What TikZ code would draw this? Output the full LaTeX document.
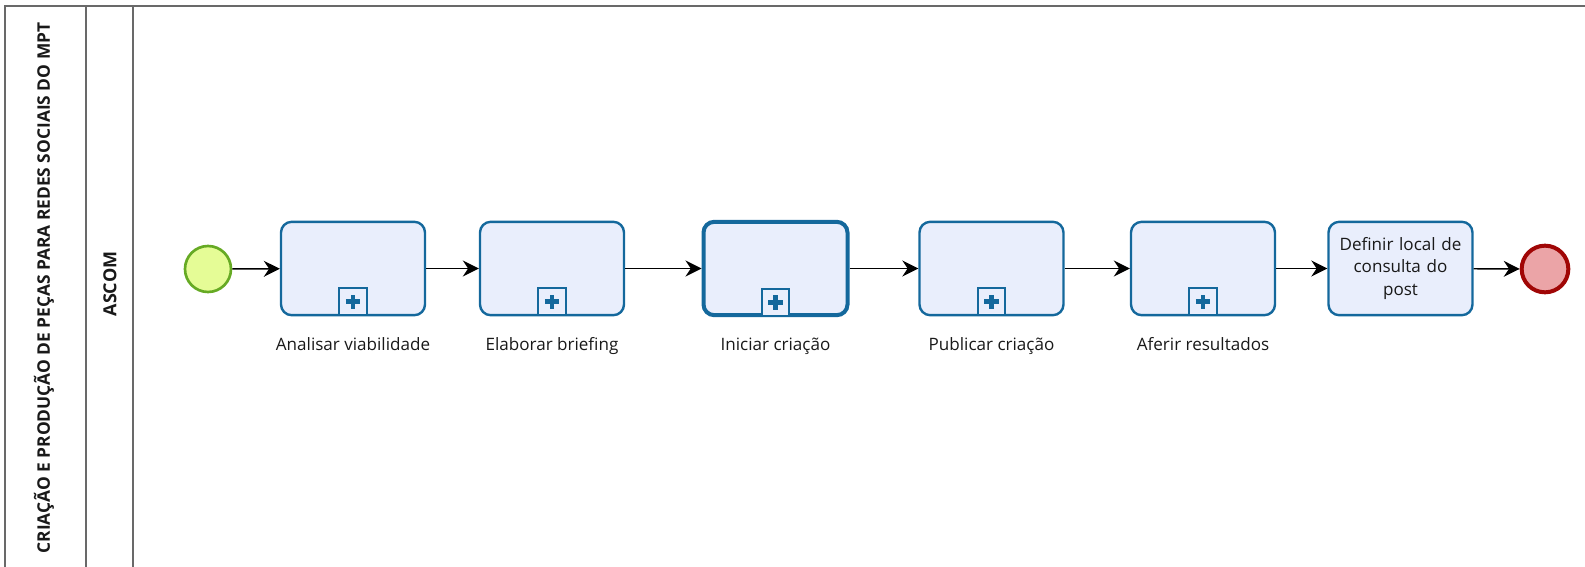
\documentclass[tikz,border=0pt]{standalone}
\usepackage{fontspec}
\setmainfont{Open Sans}
\usetikzlibrary{arrows.meta}
\definecolor{taskblue}{RGB}{20,104,156}
\definecolor{taskfill}{RGB}{233,238,252}
\definecolor{startfill}{RGB}{229,252,150}
\definecolor{startline}{RGB}{102,170,36}
\definecolor{endfill}{RGB}{235,164,167}
\definecolor{endline}{RGB}{160,6,6}
\definecolor{poolline}{RGB}{105,105,105}
\definecolor{txt}{RGB}{25,25,25}
\begin{document}
\begin{tikzpicture}[x=0.75pt,y=-0.75pt,
  font=\fontsize{12.8}{17}\selectfont, text=txt,
  pool/.style={draw=poolline,line width=1.2pt},
  task/.style={draw=taskblue,fill=taskfill,line width=1.8pt,rounded corners=8pt,
    minimum width=108pt,minimum height=70pt,inner sep=0pt,align=center,text width=104pt},
  calltask/.style={task,line width=3pt},
  marker/.style={draw=taskblue,fill=taskfill,line width=1.6pt,minimum size=20.5pt,
    inner sep=0pt,anchor=south},
  plus/.style={draw=taskblue,line width=3.3pt},
  startev/.style={circle,draw=startline,fill=startfill,line width=2pt,minimum size=34.5pt,inner sep=0pt},
  endev/.style={circle,draw=endline,fill=endfill,line width=3pt,minimum size=35pt,inner sep=0pt},
  flow/.style={draw=black,line width=1.1pt,-{Stealth[length=12pt,width=12pt,inset=4pt]}},
  lbl/.style={inner sep=0pt,anchor=base}
]
\useasboundingbox (0,0) rectangle (1585,567);
% pool
\draw[pool] (1585,6) -- (5,6) -- (5,567);
\draw[pool] (86,6) -- (86,567);
\draw[pool] (133,6) -- (133,567);
\node[rotate=90,font=\bfseries\fontsize{13}{15}\selectfont] (title) at (44,288)
  {CRIAÇÃO E PRODUÇÃO DE PEÇAS PARA REDES SOCIAIS DO MPT};
\node[rotate=90,font=\bfseries\fontsize{13.5}{15}\selectfont] (lane) at (110,284) {ASCOM};
% events
\node[startev] (start) at (208,269) {};
\node[endev] (end) at (1545,269) {};
% tasks
\node[task] (t1) at (353,268.5) {};
\node[task] (t2) at (552,268.5) {};
\node[calltask] (t3) at (775.5,268.5) {};
\node[task] (t4) at (991.5,268.5) {};
\node[task] (t5) at (1203,268.5) {};
\node[task] (t6) at (1400.5,268.5) {Definir local de\\consulta do\\post};
% markers
\foreach \t in {t1,t2,t3,t4,t5}{
  \node[marker] (m\t) at (\t.south) {};
  \draw[plus] ([xshift=-5.3pt]m\t.center) -- ([xshift=5.3pt]m\t.center);
  \draw[plus] ([yshift=-5.3pt]m\t.center) -- ([yshift=5.3pt]m\t.center);
}
% labels
\node[lbl] (l1) at (353,350) {Analisar viabilidade};
\node[lbl] (l2) at (552,350) {Elaborar briefing};
\node[lbl] (l3) at (775.5,350) {Iniciar criação};
\node[lbl] (l4) at (991.5,350) {Publicar criação};
\node[lbl] (l5) at (1203,350) {Aferir resultados};
% flows
\draw[flow] (start) -- (t1);
\draw[flow] (t1) -- (t2);
\draw[flow] (t2) -- (t3);
\draw[flow] (t3) -- (t4);
\draw[flow] (t4) -- (t5);
\draw[flow] (t5) -- (t6);
\draw[flow] (t6) -- (end);
\end{tikzpicture}
\end{document}
